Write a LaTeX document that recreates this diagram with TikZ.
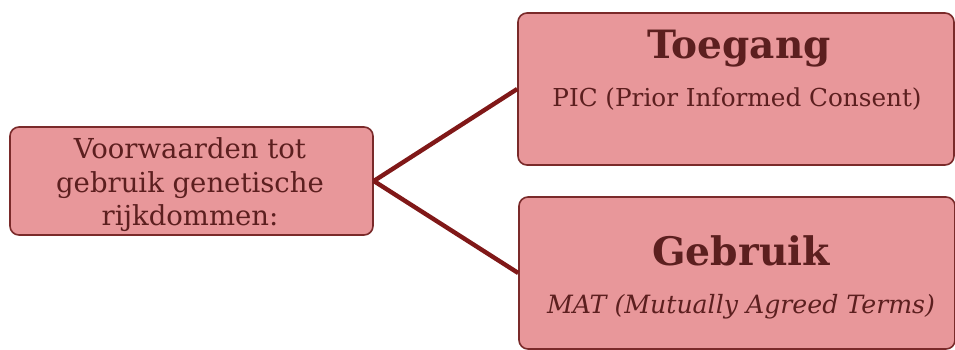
\documentclass[tikz,border=0pt]{standalone}
\usepackage{fontspec}
\setmainfont{DejaVu Serif}
\definecolor{boxfill}{HTML}{E8979A}
\definecolor{boxline}{HTML}{7A2A2A}
\definecolor{conn}{HTML}{801818}
\definecolor{txt}{HTML}{5C1F1F}
\tikzset{
  box/.style={draw=boxline, line width=1.6pt, fill=boxfill, rounded corners=9pt, inner sep=0pt},
  connector/.style={draw=conn, line width=4.4pt},
  body/.style={text=txt, inner sep=0pt, anchor=base},
}
\begin{document}
\begin{tikzpicture}[x=1pt,y=-1pt]
\useasboundingbox (0,0) rectangle (955,349);
\clip (0,0) rectangle (955,349);
\node[box, minimum width=363pt, minimum height=108pt] (src) at (191.5,181) {};
\node[box, minimum width=436pt, minimum height=152pt] (top) at (736,89) {};
\node[box, minimum width=436pt, minimum height=152pt] (bot) at (737,273) {};
\draw[connector] (src.east) -- (top.west);
\draw[connector] (src.east) -- (bot.west);
\node[body, font=\fontsize{27.5}{30}\selectfont] (l1) at (190,158) {Voorwaarden tot};
\node[body, font=\fontsize{27.5}{30}\selectfont] (l2) at (190,192) {gebruik genetische};
\node[body, font=\fontsize{27.5}{30}\selectfont] (l3) at (190,225) {rijkdommen:};
\node[body, font=\fontsize{39}{48}\selectfont\bfseries] (t1) at (739,58) {Toegang};
\node[body, font=\fontsize{24.7}{30}\selectfont] (t2) at (737,106) {PIC (Prior Informed Consent)};
\node[body, font=\fontsize{39.3}{48}\selectfont\bfseries] (g1) at (741,265) {Gebruik};
\node[body, font=\fontsize{25.2}{30}\selectfont\itshape] (g2) at (741,313) {MAT (Mutually Agreed Terms)};
\end{tikzpicture}
\end{document}
